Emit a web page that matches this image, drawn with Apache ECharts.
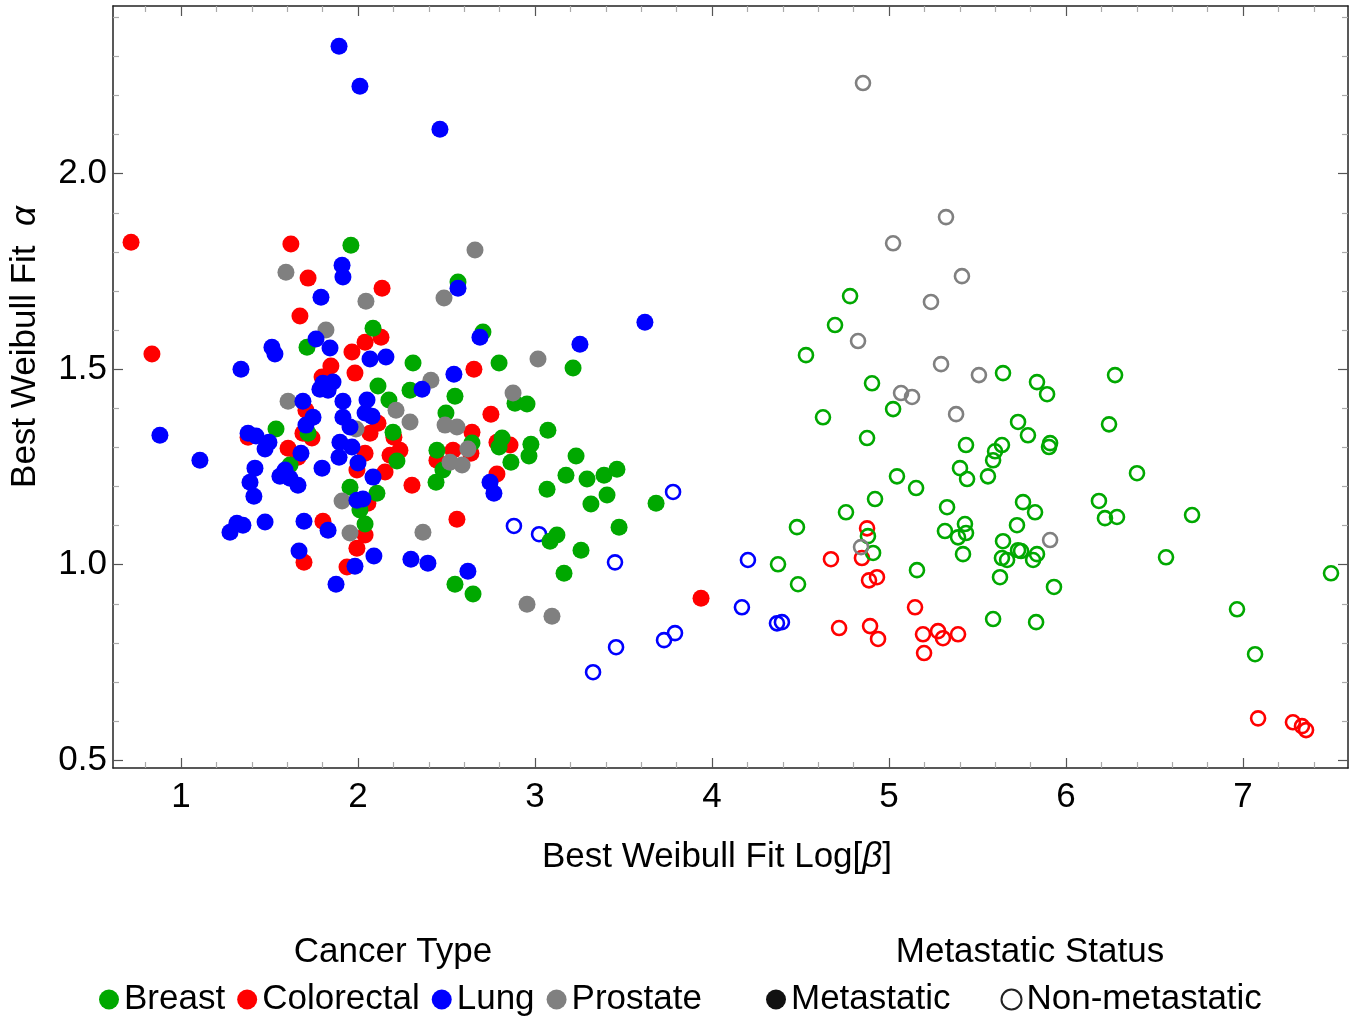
<!DOCTYPE html>
<html>
<head>
<meta charset="utf-8">
<script src="https://cdn.jsdelivr.net/npm/echarts@6/dist/echarts.min.js"></script>
<style>
  html, body { margin: 0; padding: 0; background: #fff; }
  #chart { width: 1354px; height: 1016px; }
</style>
</head>
<body>
<div id="chart"></div>
<script>
// axis ranges and ticks
const xRange = [0.616, 7.593]
const yRange = [0.48, 2.429]
const xMajor = [1, 2, 3, 4, 5, 6, 7]
const xMinor = [0.8, 1.2, 1.4, 1.6, 1.8, 2.2, 2.4, 2.6, 2.8, 3.2, 3.4, 3.6, 3.8, 4.2, 4.4, 4.6, 4.8,
  5.2, 5.4, 5.6, 5.8, 6.2, 6.4, 6.6, 6.8, 7.2, 7.4]
const yMajor = [0.5, 1.0, 1.5, 2.0]
const yMinor = [0.6, 0.7, 0.8, 0.9, 1.1, 1.2, 1.3, 1.4, 1.6, 1.7, 1.8, 1.9, 2.1, 2.2, 2.3, 2.4]

const cancerTypes = ['Breast', 'Colorectal', 'Lung', 'Prostate']
const statusNames = ['Metastatic', 'Non-metastatic']

// [log(beta), alpha] per cancer type, metastatic (filled) and non-metastatic (open)
const breastMet = [[1.960, 1.817], [2.565, 1.723], [2.085, 1.605], [2.706, 1.595], [1.712, 1.556], [2.311, 1.516],
  [2.797, 1.516], [3.215, 1.503], [2.113, 1.457], [2.294, 1.446], [2.548, 1.431], [2.887, 1.413], [2.955, 1.411],
  [2.175, 1.421], [2.497, 1.388], [1.718, 1.336], [1.537, 1.347], [2.198, 1.339], [2.446, 1.293], [2.644, 1.311],
  [2.814, 1.324], [2.797, 1.301], [2.864, 1.262], [3.073, 1.344], [2.977, 1.308], [2.966, 1.278], [3.232, 1.278],
  [3.175, 1.229], [3.294, 1.219], [3.390, 1.229], [3.463, 1.244], [3.068, 1.193], [3.407, 1.178], [3.316, 1.155],
  [3.684, 1.157], [3.475, 1.096], [3.085, 1.060], [3.124, 1.076], [3.260, 1.037], [3.164, 0.978], [2.220, 1.265],
  [2.480, 1.242], [2.441, 1.211], [1.616, 1.255], [1.955, 1.198], [2.107, 1.183], [2.011, 1.140], [2.040, 1.104],
  [2.548, 0.950], [2.650, 0.925]]
const breastNon = [[4.780, 1.687], [4.695, 1.613], [4.531, 1.536], [4.904, 1.464], [5.644, 1.490], [5.023, 1.398],
  [5.729, 1.365], [4.627, 1.377], [4.876, 1.324], [5.435, 1.306], [5.638, 1.306], [5.599, 1.290], [5.588, 1.267],
  [5.401, 1.247], [5.441, 1.219], [5.559, 1.226], [5.045, 1.226], [5.153, 1.196], [4.921, 1.168], [4.757, 1.134],
  [5.328, 1.147], [5.723, 1.101], [4.480, 1.096], [5.316, 1.086], [5.429, 1.104], [5.435, 1.081], [5.390, 1.070],
  [4.881, 1.073], [4.910, 1.030], [5.644, 1.060], [5.418, 1.027], [5.729, 1.037], [5.638, 1.017], [5.667, 1.012],
  [5.158, 0.986], [5.627, 0.968], [4.373, 1.001], [4.486, 0.950], [5.588, 0.861], [5.836, 1.467], [5.893, 1.436],
  [6.277, 1.485], [5.785, 1.331], [6.243, 1.359], [5.910, 1.311], [5.904, 1.301], [6.401, 1.234], [5.757, 1.160],
  [5.825, 1.134], [6.186, 1.163], [6.220, 1.119], [6.288, 1.122], [6.712, 1.127], [5.746, 1.035], [5.836, 1.027],
  [5.814, 1.012], [6.565, 1.019], [5.932, 0.943], [7.497, 0.978], [6.966, 0.886], [5.831, 0.853], [7.068, 0.771]]
const colorectalMet = [[0.718, 1.825], [0.836, 1.539], [1.621, 1.820], [1.718, 1.733], [1.672, 1.636], [2.136, 1.707],
  [2.130, 1.582], [2.040, 1.569], [1.966, 1.544], [1.847, 1.508], [1.983, 1.490], [2.655, 1.500], [1.797, 1.480],
  [1.706, 1.395], [2.751, 1.385], [2.113, 1.362], [2.068, 1.336], [1.740, 1.324], [1.689, 1.336], [1.379, 1.326],
  [1.605, 1.298], [1.661, 1.275], [2.203, 1.326], [2.237, 1.293], [2.181, 1.280], [2.040, 1.285], [2.446, 1.267],
  [2.537, 1.293], [2.644, 1.339], [2.638, 1.285], [2.785, 1.313], [2.859, 1.306], [2.785, 1.232], [1.994, 1.242],
  [2.153, 1.237], [2.305, 1.203], [2.056, 1.157], [2.559, 1.116], [1.802, 1.111], [2.040, 1.076], [1.994, 1.042],
  [1.695, 1.006], [1.938, 0.994], [3.938, 0.914]]
const colorectalNon = [[4.876, 1.093], [4.847, 1.017], [4.672, 1.014], [4.887, 0.960], [4.932, 0.968], [5.147, 0.891],
  [4.718, 0.838], [4.893, 0.843], [4.938, 0.810], [5.192, 0.822], [5.277, 0.830], [5.305, 0.812], [5.390, 0.822],
  [5.198, 0.774], [7.085, 0.607], [7.282, 0.597], [7.333, 0.587], [7.356, 0.577]]
const lungMet = [[1.893, 2.326], [2.011, 2.224], [2.463, 2.114], [3.621, 1.620], [3.254, 1.564], [2.565, 1.707],
  [2.689, 1.582], [1.910, 1.766], [1.915, 1.736], [1.791, 1.684], [1.763, 1.577], [1.842, 1.554], [1.514, 1.556],
  [1.531, 1.539], [1.339, 1.500], [2.068, 1.526], [2.158, 1.531], [2.542, 1.487], [2.362, 1.449], [1.802, 1.464],
  [1.859, 1.467], [1.785, 1.449], [1.831, 1.446], [1.689, 1.418], [1.915, 1.418], [2.051, 1.421], [1.746, 1.377],
  [1.915, 1.377], [2.040, 1.388], [2.079, 1.380], [1.706, 1.357], [1.955, 1.352], [1.898, 1.313], [1.966, 1.301],
  [1.893, 1.275], [1.379, 1.336], [1.424, 1.329], [1.497, 1.313], [1.475, 1.296], [0.881, 1.331], [1.678, 1.285],
  [1.107, 1.267], [1.588, 1.242], [1.559, 1.226], [1.616, 1.221], [1.661, 1.203], [1.418, 1.247], [1.797, 1.247],
  [1.390, 1.211], [1.412, 1.175], [2.000, 1.260], [2.085, 1.224], [2.746, 1.211], [2.768, 1.183], [1.994, 1.165],
  [2.028, 1.168], [1.316, 1.106], [1.350, 1.101], [1.277, 1.083], [1.475, 1.109], [1.695, 1.111], [1.831, 1.088],
  [1.667, 1.035], [1.983, 0.996], [2.090, 1.022], [2.299, 1.014], [2.395, 1.004], [2.621, 0.983], [1.876, 0.950]]
const lungNon = [[3.780, 1.186], [2.881, 1.099], [3.023, 1.078], [3.452, 1.006], [4.203, 1.012], [4.169, 0.891],
  [4.367, 0.850], [4.395, 0.853], [3.791, 0.825], [3.729, 0.807], [3.458, 0.789], [3.328, 0.725]]
const prostateMet = [[2.661, 1.805], [1.593, 1.748], [2.045, 1.674], [2.486, 1.682], [1.819, 1.600], [3.017, 1.526],
  [2.412, 1.472], [2.876, 1.439], [2.215, 1.395], [2.294, 1.365], [1.605, 1.418], [1.989, 1.347], [2.492, 1.357],
  [2.559, 1.352], [2.621, 1.296], [2.520, 1.262], [2.588, 1.255], [1.910, 1.163], [1.955, 1.081], [2.367, 1.083],
  [2.955, 0.899], [3.096, 0.868]]
const prostateNon = [[4.853, 2.232], [5.322, 1.889], [5.023, 1.822], [5.412, 1.738], [5.237, 1.672], [4.825, 1.572],
  [5.294, 1.513], [5.508, 1.485], [5.068, 1.439], [5.130, 1.429], [5.379, 1.385], [4.842, 1.045], [5.910, 1.063]]

const FONT = 'Liberation Sans'
const colors = { Breast: '#00a800', Colorectal: '#ff0000', Lung: '#0000ff', Prostate: '#808080' }

function filled(name, data) {
  return {
    name: name,
    type: 'scatter',
    data: data,
    symbolSize: 17,
    itemStyle: { color: colors[name], opacity: 1 }
  }
}
function open(name, data) {
  return {
    name: name + ' (non-metastatic)',
    type: 'scatter',
    data: data,
    symbolSize: 14,
    itemStyle: { color: 'rgba(0,0,0,0)', borderColor: colors[name], borderWidth: 2.6, opacity: 1 }
  }
}

function axisPair(dim, position, show) {
  const major = dim === 'x' ? xMajor : yMajor
  const minor = dim === 'x' ? xMinor : yMinor
  const range = dim === 'x' ? xRange : yRange
  return [
    {
      type: 'value',
      position: position,
      min: range[0],
      max: range[1],
      axisLine: { show: true, onZero: false, lineStyle: { color: '#222', width: 1.5 } },
      axisTick: { show: true, inside: true, length: 10, customValues: major, lineStyle: { color: '#555', width: 1.2 } },
      axisLabel: {
        show: show,
        customValues: major,
        fontFamily: FONT,
        fontSize: 35,
        color: '#000',
        margin: dim === 'x' ? 12 : 6,
        formatter: v => dim === 'x' ? String(v) : v.toFixed(1)
      },
      splitLine: { show: false }
    },
    {
      type: 'value',
      position: position,
      min: range[0],
      max: range[1],
      axisLine: { show: false },
      axisTick: { show: true, inside: true, length: 6, customValues: minor, lineStyle: { color: '#aaa', width: 1.2 } },
      axisLabel: { show: false },
      splitLine: { show: false }
    }
  ]
}

let chart = echarts.init(document.getElementById('chart'))
chart.setOption({
  animation: false,
  backgroundColor: '#fff',
  grid: { left: 113, right: 6, top: 6, bottom: 248 },
  xAxis: [...axisPair('x', 'bottom', true), ...axisPair('x', 'top', false)],
  yAxis: [...axisPair('y', 'left', true), ...axisPair('y', 'right', false)],
  legend: [
    {
      data: cancerTypes,
      left: 94,
      top: 977,
      icon: 'circle',
      itemWidth: 20,
      itemHeight: 20,
      itemGap: 12,
      textStyle: { fontFamily: FONT, fontSize: 35, color: '#000' }
    },
    {
      data: statusNames,
      left: 761,
      top: 977,
      icon: 'circle',
      itemWidth: 20,
      itemHeight: 20,
      itemGap: 50,
      textStyle: { fontFamily: FONT, fontSize: 35, color: '#000' }
    }
  ],
  graphic: [
    {
      type: 'text',
      x: 717,
      y: 857,
      style: {
        text: 'Best Weibull Fit Log[{i|β}]',
        rich: { i: { fontStyle: 'italic', fontFamily: FONT, fontSize: 35 } },
        font: '35px "Liberation Sans"',
        fill: '#000',
        align: 'center',
        verticalAlign: 'middle'
      }
    },
    {
      type: 'text',
      x: 25,
      y: 347,
      rotation: Math.PI / 2,
      style: {
        text: 'Best Weibull Fit  {i|α}',
        rich: { i: { fontStyle: 'italic', fontFamily: FONT, fontSize: 35 } },
        font: '35px "Liberation Sans"',
        fill: '#000',
        align: 'center',
        verticalAlign: 'middle'
      }
    },
    {
      type: 'text',
      x: 393,
      y: 952,
      style: { text: 'Cancer Type', font: '35px "Liberation Sans"', fill: '#000', align: 'center', verticalAlign: 'middle' }
    },
    {
      type: 'text',
      x: 1030,
      y: 952,
      style: { text: 'Metastatic Status', font: '35px "Liberation Sans"', fill: '#000', align: 'center', verticalAlign: 'middle' }
    }
  ],
  series: [
    open('Colorectal', colorectalNon),
    open('Breast', breastNon),
    open('Prostate', prostateNon),
    open('Lung', lungNon),
    filled('Colorectal', colorectalMet),
    filled('Breast', breastMet),
    filled('Prostate', prostateMet),
    filled('Lung', lungMet),
    // legend-only entries for metastatic status
    { name: 'Metastatic', type: 'scatter', data: [], itemStyle: { color: '#111', opacity: 1 } },
    { name: 'Non-metastatic', type: 'scatter', data: [], itemStyle: { color: '#fff', borderColor: '#222', borderWidth: 1.5, opacity: 1 } }
  ]
})
</script>
</body>
</html>
